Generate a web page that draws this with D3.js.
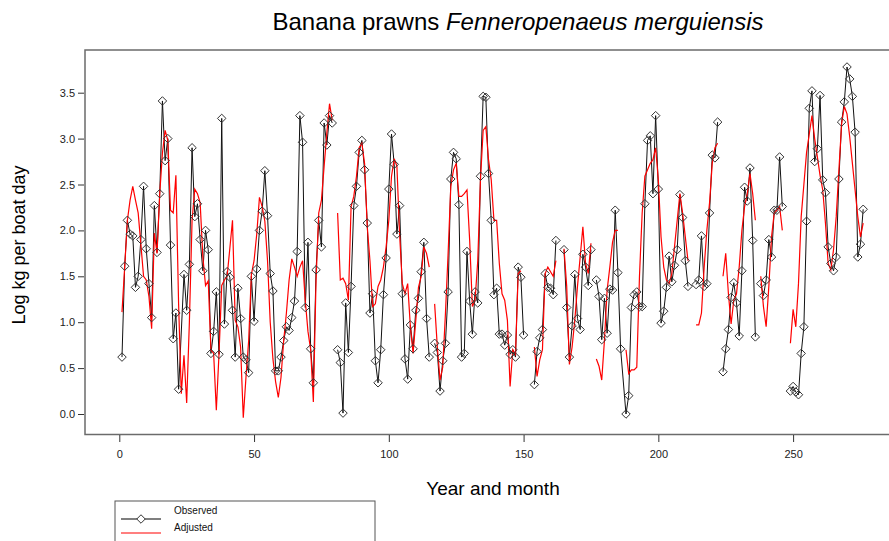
<!DOCTYPE html>
<html>
<head>
<meta charset="utf-8">
<script src="https://cdn.jsdelivr.net/npm/d3@7"></script>
<style>
  html, body { margin: 0; padding: 0; background: #fff; }
  svg { display: block; font-family: "Liberation Sans", Arial, sans-serif; }
</style>
</head>
<body>
<svg id="chart" width="889" height="541"></svg>
<script>
// Monthly catch rates (log kg per boat day), months 1..276.
// null = no record for that month.
const observed = [
  0.62, 1.61, 2.11, 1.96, 1.94, 1.38, 1.50, 1.90, 2.48, 1.80, 1.42, 1.05,
  2.27, 1.76, 2.40, 3.41, 2.76, 3.00, 1.84, 0.82, 1.10, 0.27, null, 1.52,
  1.13, 1.63, 2.90, 2.15, 2.29, 1.90, 1.56, 2.00, 1.79, 0.66, 0.90, 1.33,
  0.65, 3.22, 0.98, 1.55, 1.49, 1.13, 0.62, 1.37, 1.04, 0.62, 0.59, 0.45,
  1.50, 1.01, 1.58, 2.00, 2.21, 2.65, 2.16, 1.53, 1.34, 0.47, 0.47, 0.62,
  0.80, 0.95, 0.91, 1.05, 1.23, 1.77, 3.25, 2.96, 1.16, 1.87, 0.71, 0.34,
  1.57, 2.11, 1.82, 3.17, 2.93, 3.25, 3.17, null, 0.70, 0.56, 0.01, 1.21,
  0.67, 1.39, 2.27, 2.48, 2.85, 2.98, 2.66, 2.08, 1.10, 1.31, 0.58, 0.34,
  0.70, 1.30, 1.70, 2.45, 3.05, 2.72, 1.96, 2.27, 1.31, 0.60, 0.38, 0.97,
  0.71, 1.13, 1.26, 1.55, 1.87, 1.04, 0.62, null, 0.77, 0.67, 0.25, 0.58,
  0.77, 1.33, 2.56, 2.85, 2.78, 2.28, 0.62, 0.66, 1.77, 1.23, 0.87, 1.33,
  1.21, 2.59, 3.46, 3.45, 2.62, 2.11, 1.30, 1.37, 0.87, 0.87, 0.75, 0.86,
  0.65, 0.70, 0.62, 1.60, 1.49, 0.86, null, null, null, 0.32, 0.68, 0.83,
  0.92, 1.53, 1.38, 1.37, 1.30, 1.89, null, null, 1.79, 1.16, 0.62, 0.96,
  1.52, 1.04, 0.92, 1.74, 1.60, 1.40, 1.79, null, 1.46, 1.28, 0.81, 1.26,
  0.88, 1.36, 1.35, 2.22, 1.54, 0.71, null, 0.00, 0.20, 1.16, 1.30, 1.33,
  1.17, 1.17, 2.29, 2.98, 3.03, 2.40, 3.25, 2.45, 0.99, 1.12, 1.38, 1.72,
  1.44, 1.62, 1.79, 2.39, 2.14, 1.67, 1.39, null, null, 1.41, 1.46, 1.94,
  1.39, 1.42, 2.19, 2.82, 2.79, 3.18, null, 0.46, 0.71, 0.92, 1.27, 1.43,
  1.21, 0.85, 1.56, 2.47, 2.32, 2.68, 1.89, 0.84, null, 1.42, 1.29, 1.46,
  1.90, 1.71, 2.22, 2.22, 2.80, 2.26, null, null, 0.25, 0.30, 0.24, 0.21,
  0.66, 0.95, 2.10, 3.33, 3.52, 2.75, 2.89, 3.47, 2.55, 2.41, 1.82, 1.64,
  1.56, 1.71, 2.56, 3.18, 3.40, 3.78, 3.65, 3.46, 3.07, 1.71, 1.85, 2.23
];

// Months at which the observed line is interrupted
const observedBreaks = [80, 116, 151, 163, 176, 212, 223, 237, 247];

const adjusted = [
  1.11, 1.60, 2.11, 2.33, 2.48, 2.33, 2.19, 1.85, 1.50, 1.46, 1.28, 0.93,
  1.97, 1.75, 2.40, 2.84, 3.09, 2.98, 2.22, 2.19, 2.60, 1.20, 0.22, 0.64,
  0.12, 1.00, 2.11, 2.45, 2.40, 2.30, 1.71, 1.40, 1.45, 0.70, 0.66, 0.04,
  0.66, 1.40, 1.46, 1.50, 1.80, 2.11, 1.02, 0.95, 0.73, -0.04, 0.40, 0.80,
  1.52, 1.67, 1.96, 2.36, 2.26, 2.10, 1.67, 1.00, 0.60, 0.35, 0.18, 0.40,
  0.80, 1.10, 1.46, 1.69, 1.60, 1.50, 1.60, 1.67, 1.24, 0.90, 0.70, 0.13,
  1.46, 2.19, 2.33, 2.70, 3.06, 3.38, 3.20, null, 2.19, 1.46, 1.48, 1.42,
  1.24, 2.26, 2.37, 2.59, 2.90, 2.95, 2.73, 2.04, 1.67, 1.17, 1.20, 1.39,
  1.46, 1.60, 1.82, 2.11, 2.59, 2.78, 2.70, 1.96, 1.42, 1.31, 1.42, 0.95,
  0.66, 1.02, 1.38, 1.50, 1.82, 1.75, 1.60, null, 1.20, 0.73, 0.37, 0.51,
  1.09, 1.75, 2.48, 2.66, 2.73, 2.37, 2.37, 2.40, 2.44, 1.89, 1.17, 1.24,
  1.67, 2.55, 3.09, 3.13, 2.77, 2.55, 2.11, 2.11, 1.64, 1.31, 1.24, 1.02,
  0.30, 0.70, 0.65, 1.53, 1.56, null, null, null, null, 0.73, 0.41, 0.59,
  0.70, 1.53, 1.60, 1.55, 1.50, 1.67, null, null, 1.80, 1.39, 0.54, 0.73,
  1.02, 1.39, 1.71, 2.04, 1.64, 1.53, 1.86, null, 0.60, 0.52, 0.37, 0.80,
  1.35, 1.60, 1.87, 2.00, 2.00, null, null, 0.70, 0.44, 0.48, 0.48, 0.51,
  1.50, 2.19, 2.59, 2.66, 2.73, 2.77, 2.90, 2.55, 1.93, 1.60, 1.46, 1.42,
  1.53, 1.82, 2.11, 2.40, 2.19, 1.93, 1.67, null, null, 0.97, 0.97, 1.10,
  1.60, 2.00, 2.30, 2.73, 2.90, 2.95, null, 1.50, 1.75, 1.31, 0.98, 1.24,
  1.31, 1.60, 2.00, 2.26, 2.40, 2.62, 2.40, 2.11, null, 1.50, 1.17, 0.95,
  1.39, 1.93, 2.19, 2.22, 2.26, 2.00, null, null, 0.77, 1.14, 0.95, 1.42,
  2.15, 2.50, 2.85, 3.05, 3.25, 3.00, 2.80, 2.60, 2.44, 2.08, 1.64, 1.57,
  1.79, 2.15, 2.66, 3.16, 3.35, 3.27, 3.02, 2.73, 2.44, 2.15, 1.93, 2.08
];

const xTicks = [0, 50, 100, 150, 200, 250];
const yTicks = [0.0, 0.5, 1.0, 1.5, 2.0, 2.5, 3.0, 3.5];
const legendLabels = ["Observed", "Adjusted"];

const svg = d3.select("#chart");

// Plot frame (right edge runs past the page)
const frame = { left: 85, top: 50, right: 895, bottom: 434.5 };

const x = d3.scaleLinear().domain([0, 250]).range([119.3, 793.1]);
const y = d3.scaleLinear().domain([0, 3.5]).range([414, 92.7]);

// Title
const title = svg.append("text")
  .attr("x", 518).attr("y", 30)
  .attr("text-anchor", "middle")
  .attr("font-size", 24)
  .attr("fill", "#000");
title.append("tspan").text("Banana prawns ");
title.append("tspan").attr("font-style", "italic").text("Fenneropenaeus merguiensis");

// Frame
svg.append("rect")
  .attr("x", frame.left).attr("y", frame.top)
  .attr("width", frame.right - frame.left)
  .attr("height", frame.bottom - frame.top)
  .attr("fill", "none")
  .attr("stroke", "#6b6b6b")
  .attr("stroke-width", 1.5);

// Axes
const yAxis = d3.axisLeft(y).tickValues(yTicks).tickFormat(d3.format(".1f"))
  .tickSize(6).tickPadding(3);
const gy = svg.append("g").attr("transform", `translate(${frame.left - 1},0)`).call(yAxis);
gy.select(".domain").remove();
gy.selectAll(".tick line").attr("stroke", "#333");
gy.selectAll(".tick text").attr("font-size", 11).attr("fill", "#222")
  .attr("font-family", "Liberation Sans, Arial, sans-serif");

const xAxis = d3.axisBottom(x).tickValues(xTicks).tickFormat(d3.format("d"))
  .tickSize(7).tickPadding(8);
const gx = svg.append("g").attr("transform", `translate(0,${frame.bottom + 0.5})`).call(xAxis);
gx.select(".domain").remove();
gx.selectAll(".tick line").attr("stroke", "#333");
gx.selectAll(".tick text").attr("font-size", 11).attr("fill", "#222")
  .attr("font-family", "Liberation Sans, Arial, sans-serif");

// Axis titles
svg.append("text")
  .attr("x", 493).attr("y", 495)
  .attr("text-anchor", "middle")
  .attr("font-size", 19)
  .text("Year and month");

svg.append("text")
  .attr("transform", "translate(25,245) rotate(-90)")
  .attr("text-anchor", "middle")
  .attr("font-size", 18)
  .text("Log kg per boat day");

// Series data
const obsData = observed.map((v, i) => ({ m: i + 1, v }));
const adjData = adjusted.map((v, i) => ({ m: i + 1, v }));

// Split observed into runs at the listed breaks; missing months inside a run are skipped
const breakSet = new Set(observedBreaks);
const obsRuns = [];
let run = [];
obsData.forEach(d => {
  if (breakSet.has(d.m)) { if (run.length) obsRuns.push(run); run = []; return; }
  if (d.v === null) return;
  run.push(d);
});
if (run.length) obsRuns.push(run);

const line = d3.line().x(d => x(d.m)).y(d => y(d.v));
const lineAdj = d3.line().defined(d => d.v !== null).x(d => x(d.m)).y(d => y(d.v));

const plot = svg.append("g");

plot.selectAll("path.obs")
  .data(obsRuns)
  .join("path")
  .attr("class", "obs")
  .attr("d", line)
  .attr("fill", "none")
  .attr("stroke", "#111")
  .attr("stroke-width", 1);

plot.append("path")
  .datum(adjData)
  .attr("d", lineAdj)
  .attr("fill", "none")
  .attr("stroke", "#ff0000")
  .attr("stroke-width", 1.2);

const diamond = d3.symbol().type(d3.symbolDiamond2).size(46);
plot.selectAll("path.pt")
  .data(obsData.filter(d => d.v !== null))
  .join("path")
  .attr("class", "pt")
  .attr("transform", d => `translate(${x(d.m)},${y(d.v)})`)
  .attr("d", diamond)
  .attr("fill", "none")
  .attr("stroke", "#333")
  .attr("stroke-width", 1);

// Legend
const lg = svg.append("g");
lg.append("rect")
  .attr("x", 115).attr("y", 501)
  .attr("width", 260).attr("height", 60)
  .attr("fill", "#fff")
  .attr("stroke", "#555")
  .attr("stroke-width", 1);

lg.append("line")
  .attr("x1", 121).attr("x2", 161).attr("y1", 519).attr("y2", 519)
  .attr("stroke", "#555").attr("stroke-width", 1.5);
lg.append("path")
  .attr("transform", "translate(141,519)")
  .attr("d", diamond)
  .attr("fill", "#fff")
  .attr("stroke", "#333");
lg.append("line")
  .attr("x1", 121).attr("x2", 161).attr("y1", 533).attr("y2", 533)
  .attr("stroke", "#ff0000").attr("stroke-width", 1.2);

lg.selectAll("text")
  .data(legendLabels)
  .join("text")
  .attr("x", 174)
  .attr("y", (d, i) => 514 + i * 16.5)
  .attr("font-size", 10)
  .attr("fill", "#111")
  .text(d => d);
</script>
</body>
</html>
